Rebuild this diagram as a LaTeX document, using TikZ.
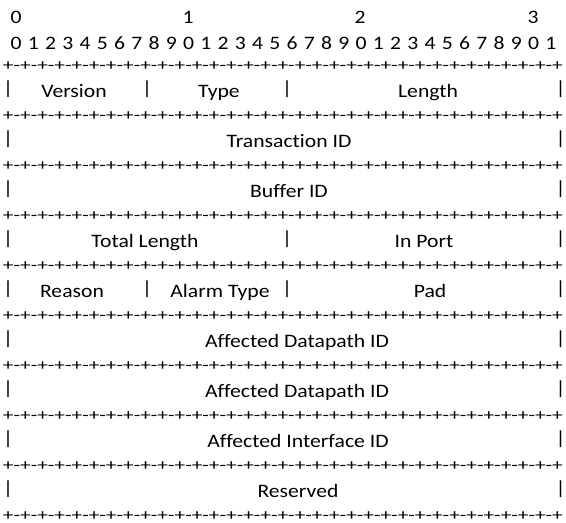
\documentclass[tikz,border=0pt]{standalone}
\usepackage{graphicx}
\usepackage{fontspec}
\setmainfont{Carlito}[FakeStretch=1.14,Ligatures=CommonOff]
\newcommand{\sepline}{\resizebox{560pt}{\height}{+-+-+-+-+-+-+-+-+-+-+-+-+-+-+-+-+-+-+-+-+-+-+-+-+-+-+-+-+-+-+-+-+}}
\begin{document}
\begin{tikzpicture}[x=1pt,y=-1pt,
	every node/.style={inner sep=0pt,anchor=base,
	font=\fontsize{19}{22}\selectfont},
	sepline/.style={anchor=base,font=\fontsize{16}{19}\selectfont},
	field/.style={anchor=base},
	bar/.style={anchor=base,yshift=3pt}]
	\useasboundingbox (0,0) rectangle (566,523);
	
	% bit numbers
	\node (ten0) at (16,23) {0};
	\node (ten1) at (188,23) {1};
	\node (ten2) at (360,23) {2};
	\node (ten3) at (533,23) {3};
	\foreach \i in {0,...,31}{
		\pgfmathtruncatemacro{\d}{mod(\i,10)}
		\node (bit\i) at (16+17.25*\i,49) {\d};
	}
	
	% separator lines
	\foreach \r in {0,...,9}
	\node[sepline] (sep\r) at (283,70+50*\r) {\sepline};
	
	% row 0
	\node[bar] (b0a) at (8,97) {|};
	\node[field] (version) at (74,97) {Version};
	\node[bar] (b0b) at (147,97) {|};
	\node[field] (type) at (219,97) {Type};
	\node[bar] (b0c) at (287,97) {|};
	\node[field] (length) at (428,97) {Length};
	\node[bar] (b0d) at (560.5,97) {|};
	
	% row 1
	\node[bar] (b1a) at (8,147) {|};
	\node[field] (xid) at (289,147) {Transaction ID};
	\node[bar] (b1d) at (560.5,147) {|};
	
	% row 2
	\node[bar] (b2a) at (8,197) {|};
	\node[field] (bufid) at (289,197) {Buffer ID};
	\node[bar] (b2d) at (560.5,197) {|};
	
	% row 3
	\node[bar] (b3a) at (8,247) {|};
	\node[field] (totlen) at (145,247) {Total Length};
	\node[bar] (b3c) at (287,247) {|};
	\node[field] (inport) at (424,247) {In Port};
	\node[bar] (b3d) at (560.5,247) {|};
	
	% row 4
	\node[bar] (b4a) at (8,297) {|};
	\node[field] (reason) at (72,297) {Reason};
	\node[bar] (b4b) at (147,297) {|};
	\node[field] (alarm) at (220,297) {Alarm Type};
	\node[bar] (b4c) at (287,297) {|};
	\node[field] (pad) at (430,297) {Pad};
	\node[bar] (b4d) at (560.5,297) {|};
	
	% row 5
	\node[bar] (b5a) at (8,347) {|};
	\node[field] (dpid1) at (297,347) {Affected Datapath ID};
	\node[bar] (b5d) at (560.5,347) {|};
	
	% row 6
	\node[bar] (b6a) at (8,397) {|};
	\node[field] (dpid2) at (297,397) {Affected Datapath ID};
	\node[bar] (b6d) at (560.5,397) {|};
	
	% row 7
	\node[bar] (b7a) at (8,447) {|};
	\node[field] (ifid) at (298,447) {Affected Interface ID};
	\node[bar] (b7d) at (560.5,447) {|};
	
	% row 8
	\node[bar] (b8a) at (8,497) {|};
	\node[field] (resv) at (298,497) {Reserved};
	\node[bar] (b8d) at (560.5,497) {|};
	
\end{tikzpicture}
\end{document}
